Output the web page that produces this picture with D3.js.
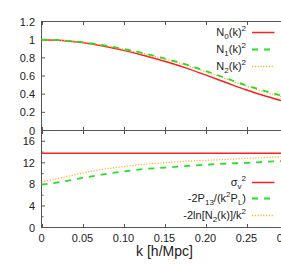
<!DOCTYPE html>
<html><head><meta charset="utf-8">
<script src="https://cdn.jsdelivr.net/npm/d3@7"></script>
<style>
body{margin:0;background:#fff;}
svg{display:block;font-family:"Liberation Sans",Arial,Helvetica,sans-serif;}
</style></head>
<body><svg id="c" width="281" height="264"></svg>
<script>
const kValues = [0,0.025,0.05,0.075,0.1,0.125,0.15,0.175,0.2,0.225,0.25,0.275,0.3];
const n0Sq = [1.0,0.992,0.968,0.930,0.882,0.826,0.762,0.692,0.612,0.528,0.445,0.375,0.31];
const n1Sq = [1.0,0.993,0.972,0.939,0.898,0.850,0.793,0.730,0.656,0.577,0.497,0.429,0.365];
const n2Sq = [1.0,0.993,0.971,0.937,0.894,0.845,0.787,0.722,0.648,0.568,0.487,0.418,0.352];
const sigmaV2 = [13.8,13.8,13.8,13.8,13.8,13.8,13.8,13.8,13.8,13.8,13.8,13.8,13.8];
const p13Term = [7.95,8.5,9.2,9.85,10.4,10.85,11.1,11.4,11.65,11.85,12.0,12.2,12.35];
const lnN2Term = [8.45,9.25,10.1,10.8,11.3,11.72,12.02,12.27,12.46,12.64,12.83,13.0,13.15];
const xTicks = [0,0.05,0.10,0.15,0.20,0.25,0.30];
const xTickLabels = ["0","0.05","0.10","0.15","0.20","0.25","0.30"];
const yTopTicks = [0,0.2,0.4,0.6,0.8,1,1.2];
const yTopLabels = ["0","0.2","0.4","0.6","0.8","1","1.2"];
const yBotTicks = [0,4,8,12,16];
const yBotMinor = [2,6,10,14,18];

const svg = d3.select("#c");
const x = d3.scaleLinear().domain([0,0.3]).range([41.5,287.5]);
const yT = d3.scaleLinear().domain([0,1.2]).range([130.5,21.5]);
const yB = d3.scaleLinear().domain([0,18]).range([227.5,130.5]);
const axisCol = "#555";
const red = "#ff2020", green = "#22e022", orange = "#ffb030";

// frames
function frame(y0,y1){
  svg.append("rect").attr("x",x(0)).attr("y",y1).attr("width",x(0.3)-x(0)).attr("height",y0-y1)
    .attr("fill","none").attr("stroke",axisCol).attr("stroke-width",1);
}
frame(yT(0),yT(1.2));
frame(yB(0),yB(18));

// x ticks (inward) on all horizontal edges
const tl = 3.5;
xTicks.forEach(t=>{
  const xx = Math.round(x(t))+0.5;
  [[yT(1.2),1],[yT(0),-1],[yB(18),1],[yB(0),-1]].forEach(([yy,d])=>{
    svg.append("line").attr("x1",xx).attr("x2",xx).attr("y1",yy).attr("y2",yy+d*tl)
      .attr("stroke",axisCol).attr("stroke-width",1);
  });
});
// y ticks
yTopTicks.forEach(t=>{
  svg.append("line").attr("x1",x(0)).attr("x2",x(0)+tl).attr("y1",yT(t)).attr("y2",yT(t)).attr("stroke",axisCol);
});
yBotTicks.forEach(t=>{
  svg.append("line").attr("x1",x(0)).attr("x2",x(0)+tl).attr("y1",yB(t)).attr("y2",yB(t)).attr("stroke",axisCol);
});
yBotMinor.forEach(t=>{
  svg.append("line").attr("x1",x(0)).attr("x2",x(0)+2).attr("y1",yB(t)).attr("y2",yB(t)).attr("stroke",axisCol);
});

// tick labels
const fs = 11;
yTopTicks.forEach((t,i)=>{
  svg.append("text").attr("x",35).attr("y",yT(t)+4).attr("text-anchor","end")
    .attr("font-size",fs).attr("fill","#222").text(yTopLabels[i]);
});
yBotTicks.forEach(t=>{
  svg.append("text").attr("x",35).attr("y",yB(t)+4).attr("text-anchor","end")
    .attr("font-size",fs).attr("fill","#222").text(String(t));
});
xTicks.forEach((t,i)=>{
  svg.append("text").attr("x",x(t)).attr("y",242).attr("text-anchor","middle")
    .attr("font-size",fs).attr("fill","#222").text(xTickLabels[i]);
});
svg.append("text").attr("x",164.5).attr("y",256).attr("text-anchor","middle")
  .attr("font-size",14).attr("fill","#222").text("k [h/Mpc]");

// curves
function curve(vals,y,col,dash,w){
  const line = d3.line().x((d,i)=>x(kValues[i])).y(d=>y(d)).curve(d3.curveMonotoneX);
  svg.append("path").attr("d",line(vals)).attr("fill","none").attr("stroke",col)
    .attr("stroke-width",w).attr("stroke-dasharray",dash);
}
curve(n0Sq,yT,red,null,1.5);
curve(n2Sq,yT,orange,"1.2,1.6",1.3);
curve(n1Sq,yT,green,"6,6",1.8);
curve(sigmaV2,yB,red,null,1.5);
curve(lnN2Term,yB,orange,"1.2,1.6",1.3);
curve(p13Term,yB,green,"6,6",1.8);

// legends
function legendRow(parts,ty,ly,col,dash,w){
  const t = svg.append("text").attr("x",246).attr("y",ty).attr("text-anchor","end")
    .attr("font-size",fs).attr("fill","#222");
  parts.forEach(p=>{
    const s = t.append("tspan").text(p[0]);
    if(p[1]==="sub") s.attr("font-size",8).attr("dy",3);
    if(p[1]==="sup") s.attr("font-size",8).attr("dy",-5);
    if(p[2]) s.attr("dy",p[2]);
  });
  svg.append("line").attr("x1",252).attr("x2",274.5).attr("y1",ly).attr("y2",ly)
    .attr("stroke",col).attr("stroke-width",w).attr("stroke-dasharray",dash);
}
// helpers for text with relative shifts
function parts(list){return list;}
legendRow([["N"],["0","sub"],["(k)",null,-3],["2","sup"]],36,32.5,red,null,1.5);
legendRow([["N"],["1","sub"],["(k)",null,-3],["2","sup"]],53,49.5,green,"6,6",1.8);
legendRow([["N"],["2","sub"],["(k)",null,-3],["2","sup"]],70,66.5,orange,"1.2,1.6",1.3);

legendRow([["σ"],["v","sub"],["2","sup",-8]],186,182.5,red,null,1.5);
legendRow([["-2P"],["13","sub"],["/(k",null,-3],["2","sup"],["P",null,5],["L","sub"],[")",null,-3]],202,198.5,green,"6,6",1.8);
legendRow([["-2ln[N"],["2","sub"],["(k)]/k",null,-3],["2","sup"]],219,215.5,orange,"1.2,1.6",1.3);
</script></body></html>
